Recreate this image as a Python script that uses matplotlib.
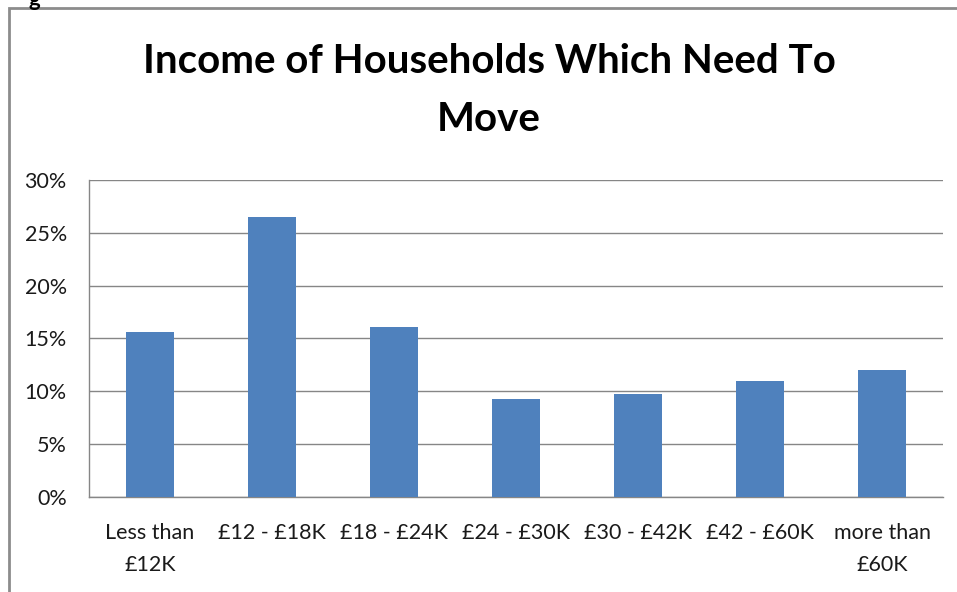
import matplotlib.pyplot as plt
import numpy as np
from matplotlib.patches import Rectangle
from matplotlib.ticker import FuncFormatter

plt.rcParams['font.family'] = ['Lato', 'DejaVu Sans']

categories = ['Less than\n£12K', '£12 - £18K', '£18 - £24K', '£24 - £30K',
              '£30 - £42K', '£42 - £60K', 'more than\n£60K']
values = [15.6, 26.5, 16.1, 9.25, 9.75, 10.95, 12.0]
y_ticks = [0, 5, 10, 15, 20, 25, 30]

fig = plt.figure(figsize=(9.57, 5.92), dpi=100)
ax = fig.add_axes([0.093, 0.1605, 0.8924, 0.5355])

# outer chart frame, cut off by the image edge
fig.patches.append(Rectangle((0.009, -0.1), 1.2, 1.086, transform=fig.transFigure,
                             fill=False, edgecolor='#8c8c8c', linewidth=2))
fig.text(0.036, 1.0, 'g', fontsize=16, fontweight='bold', va='center', ha='center')

x = np.arange(len(categories))
ax.bar(x, values, width=0.4, color='#4F81BD', zorder=3)

ax.set_xlim(-0.5, len(categories) - 0.5)
ax.set_ylim(0, 30)
ax.set_yticks(y_ticks)
ax.yaxis.set_major_formatter(FuncFormatter(lambda v, p: f'{v:.0f}%'))
ax.set_xticks(x)
ax.set_xticklabels(categories, linespacing=1.75)
ax.grid(axis='y', color='#868686', linewidth=1, zorder=0)
ax.tick_params(axis='both', length=0, labelsize=15.5, colors='#1a1a1a')
ax.tick_params(axis='y', pad=16)
ax.tick_params(axis='x', pad=19)

for s in ['top', 'right']:
    ax.spines[s].set_visible(False)
for s in ['left', 'bottom']:
    ax.spines[s].set_color('#868686')
    ax.spines[s].set_linewidth(1)

fig.text(0.511, 0.847, 'Income of Households Which Need To\nMove', ha='center',
         va='center', fontsize=29, fontweight='bold', linespacing=1.7)

fig.savefig('out.png', dpi=100)
